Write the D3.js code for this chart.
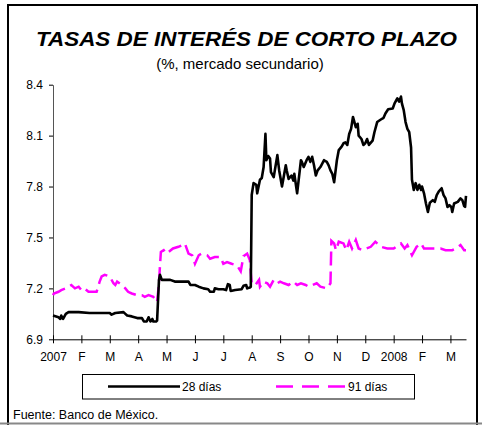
<!DOCTYPE html>
<html>
<head>
<meta charset="utf-8">
<script src="https://cdn.jsdelivr.net/npm/d3@7"></script>
<style>
  body { margin: 0; background: #fff; }
  text { font-family: Arial, "Liberation Sans", sans-serif; }
</style>
</head>
<body>
<svg id="chart"></svg>
<script>
// size
const width = 482;
const height = 425;

// month labels on the x axis (one tick per month)
const monthLabels = ["2007", "F", "M", "A", "M", "J", "J", "A", "S", "O", "N", "D", "2008", "F", "M"];
const yTicks = [6.9, 7.2, 7.5, 7.8, 8.1, 8.4];
const axisEnd = "2008-03-18";

// 28 dias
const dates28 = [
  "2007-01-01", "2007-01-07", "2007-01-09", "2007-01-10", "2007-01-12", "2007-01-15", "2007-01-18", "2007-01-29",
  "2007-02-09", "2007-03-01", "2007-03-03", "2007-03-07", "2007-03-16", "2007-03-18", "2007-03-20", "2007-03-25",
  "2007-03-31", "2007-04-05", "2007-04-07", "2007-04-10", "2007-04-12", "2007-04-14", "2007-04-16", "2007-04-17",
  "2007-04-20", "2007-04-21", "2007-04-23", "2007-04-24", "2007-04-26", "2007-05-05", "2007-05-10", "2007-05-25",
  "2007-05-27", "2007-06-01", "2007-06-05", "2007-06-10", "2007-06-15", "2007-06-17", "2007-06-21", "2007-06-22",
  "2007-06-26", "2007-07-01", "2007-07-04", "2007-07-06", "2007-07-08", "2007-07-09", "2007-07-14", "2007-07-21",
  "2007-07-23", "2007-07-26", "2007-07-27", "2007-07-30", "2007-07-31", "2007-08-01", "2007-08-03", "2007-08-06",
  "2007-08-07", "2007-08-10", "2007-08-12", "2007-08-14", "2007-08-16", "2007-08-17", "2007-08-19", "2007-08-21",
  "2007-08-22", "2007-08-25", "2007-08-29", "2007-08-31", "2007-09-03", "2007-09-07", "2007-09-08", "2007-09-10",
  "2007-09-13", "2007-09-15", "2007-09-16", "2007-09-19", "2007-09-23", "2007-09-24", "2007-09-26", "2007-09-29",
  "2007-10-01", "2007-10-03", "2007-10-05", "2007-10-07", "2007-10-09", "2007-10-11", "2007-10-14", "2007-10-18",
  "2007-10-21", "2007-10-23", "2007-10-25", "2007-10-27", "2007-10-29", "2007-11-01", "2007-11-03", "2007-11-06",
  "2007-11-08", "2007-11-10", "2007-11-12", "2007-11-14", "2007-11-16", "2007-11-18", "2007-11-21", "2007-11-23",
  "2007-11-24", "2007-11-27", "2007-11-29", "2007-12-01", "2007-12-03", "2007-12-05", "2007-12-09", "2007-12-11",
  "2007-12-14", "2007-12-18", "2007-12-21", "2007-12-23", "2007-12-26", "2007-12-31", "2008-01-02", "2008-01-05",
  "2008-01-07", "2008-01-09", "2008-01-10", "2008-01-12", "2008-01-14", "2008-01-16", "2008-01-18", "2008-01-20",
  "2008-01-21", "2008-01-23", "2008-01-25", "2008-01-27", "2008-01-29", "2008-01-31", "2008-02-01", "2008-02-03",
  "2008-02-05", "2008-02-07", "2008-02-09", "2008-02-12", "2008-02-14", "2008-02-16", "2008-02-18", "2008-02-21",
  "2008-02-23", "2008-02-25", "2008-02-27", "2008-02-29", "2008-03-02", "2008-03-03", "2008-03-05", "2008-03-09",
  "2008-03-12", "2008-03-14", "2008-03-16", "2008-03-17", "2008-03-18"
];
const values28 = [
  7.04, 7.03, 7.02, 7.04, 7.02, 7.05, 7.06, 7.06,
  7.055, 7.055, 7.045, 7.055, 7.06, 7.05, 7.04, 7.035,
  7.025, 7.025, 7.005, 7.005, 7.03, 7.005, 7.02, 7.005,
  7.005, 7.01, 7.25, 7.28, 7.25, 7.25, 7.24, 7.24,
  7.22, 7.22, 7.21, 7.20, 7.195, 7.18, 7.18, 7.20,
  7.195, 7.195, 7.19, 7.225, 7.22, 7.185, 7.19, 7.195,
  7.215, 7.22, 7.20, 7.205, 7.21, 7.75, 7.82, 7.81,
  7.76, 7.84, 7.85, 7.915, 8.11, 7.955, 7.98, 7.965,
  7.885, 7.855, 7.985, 7.895, 7.80, 7.925, 7.895, 7.845,
  7.865, 7.835, 7.875, 7.76, 7.955, 7.945, 7.915, 7.955,
  7.975, 7.945, 7.975, 7.925, 7.865, 7.895, 7.915, 7.955,
  7.945, 7.925, 7.895, 7.875, 7.825, 7.955, 8.015, 8.035,
  8.055, 8.06, 8.045, 8.11, 8.14, 8.21, 8.15, 8.17,
  8.10, 8.08, 8.045, 8.055, 8.08, 8.045, 8.07, 8.12,
  8.18, 8.195, 8.205, 8.23, 8.255, 8.26, 8.29, 8.32,
  8.30, 8.33, 8.29, 8.25, 8.18, 8.14, 8.12, 8.03,
  7.84, 7.78, 7.82, 7.78, 7.81, 7.78, 7.80, 7.76,
  7.70, 7.65, 7.705, 7.72, 7.71, 7.75, 7.77, 7.79,
  7.75, 7.73, 7.68, 7.69, 7.68, 7.65, 7.70, 7.71,
  7.73, 7.72, 7.685, 7.68, 7.745
];

// 91 dias
const dates91 = [
  "2007-01-01", "2007-01-02", "2007-01-07", "2007-01-10", "2007-01-15", "2007-01-21", "2007-01-25", "2007-01-29",
  "2007-02-01", "2007-02-04", "2007-02-08", "2007-02-11", "2007-02-16", "2007-02-19", "2007-02-21", "2007-02-24",
  "2007-03-01", "2007-03-05", "2007-03-07", "2007-03-09", "2007-03-14", "2007-03-18", "2007-03-21", "2007-03-25",
  "2007-03-31", "2007-04-05", "2007-04-08", "2007-04-12", "2007-04-17", "2007-04-21", "2007-04-23", "2007-04-24",
  "2007-04-25", "2007-04-28", "2007-05-01", "2007-05-08", "2007-05-14", "2007-05-18", "2007-05-21", "2007-05-25",
  "2007-05-29", "2007-06-01", "2007-06-05", "2007-06-08", "2007-06-14", "2007-06-17", "2007-06-22", "2007-06-28",
  "2007-07-01", "2007-07-05", "2007-07-10", "2007-07-16", "2007-07-20", "2007-07-23", "2007-07-27", "2007-07-30",
  "2007-07-31", "2007-08-01", "2007-08-05", "2007-08-09", "2007-08-10", "2007-08-14", "2007-08-18", "2007-08-21",
  "2007-08-25", "2007-08-29", "2007-09-01", "2007-09-05", "2007-09-10", "2007-09-15", "2007-09-19", "2007-09-23",
  "2007-09-28", "2007-10-01", "2007-10-10", "2007-10-14", "2007-10-21", "2007-10-25", "2007-10-26", "2007-10-29",
  "2007-10-31", "2007-11-03", "2007-11-08", "2007-11-11", "2007-11-14", "2007-11-17", "2007-11-21", "2007-11-24",
  "2007-11-28", "2007-12-07", "2007-12-12", "2007-12-18", "2007-12-25", "2008-01-01", "2008-01-09", "2008-01-13",
  "2008-01-16", "2008-01-21", "2008-01-26", "2008-01-31", "2008-02-03", "2008-02-08", "2008-02-20", "2008-02-25",
  "2008-03-03", "2008-03-07", "2008-03-12", "2008-03-16", "2008-03-18"
];
const values91 = [
  7.16, 7.17, 7.18, 7.19, 7.20, 7.22, 7.20, 7.21,
  7.19, 7.20, 7.18, 7.18, 7.18, 7.24, 7.27, 7.28,
  7.27, 7.23, 7.22, 7.24, 7.22, 7.20, 7.18, 7.17,
  7.16, 7.16, 7.15, 7.16, 7.15, 7.12, 7.23, 7.33,
  7.415, 7.425, 7.405, 7.435, 7.445, 7.455, 7.465, 7.405,
  7.395, 7.345, 7.395, 7.405, 7.395, 7.375, 7.385, 7.385,
  7.345, 7.355, 7.345, 7.335, 7.30, 7.39, 7.405, 7.366,
  7.29, 7.23, 7.22, 7.25, 7.21, 7.24, 7.23, 7.21,
  7.25, 7.23, 7.24, 7.23, 7.22, 7.24, 7.22, 7.23,
  7.22, 7.21, 7.23, 7.21, 7.20, 7.23, 7.48, 7.465,
  7.425, 7.475, 7.465, 7.425, 7.475, 7.435, 7.485, 7.435,
  7.425, 7.445, 7.475, 7.445, 7.435, 7.435, 7.465, 7.435,
  7.455, 7.395, 7.445, 7.465, 7.435, 7.435, 7.435, 7.425,
  7.425, 7.435, 7.455, 7.425, 7.425
];

// dates -> position in months since Jan 2007 (every month gets the same width)
function monthPos(s) {
    const [y, m, d] = s.split("-").map(Number);
    const days = new Date(y, m, 0).getDate();
    return (y - 2007) * 12 + (m - 1) + (d - 1) / days;
}

const series28 = dates28.map((d, i) => ({ t: monthPos(d), v: values28[i] }));
const series91 = dates91.map((d, i) => ({ t: monthPos(d), v: values91[i] }));

const svg = d3.select("#chart")
    .attr("width", width)
    .attr("height", height);

// frame
svg.append("path")
    .attr("d", "M8,425 V5 H477 V425")
    .attr("fill", "none")
    .attr("stroke", "#000")
    .attr("stroke-width", 2);
svg.append("line")
    .attr("x1", 0).attr("x2", width)
    .attr("y1", 423.5).attr("y2", 423.5)
    .attr("stroke", "#888")
    .attr("stroke-width", 2);

// title
svg.append("text")
    .attr("x", 36).attr("y", 46)
    .attr("textLength", 421)
    .attr("lengthAdjust", "spacingAndGlyphs")
    .style("font-size", "21px")
    .style("font-weight", "bold")
    .style("font-style", "italic")
    .text("TASAS DE INTERÉS DE CORTO PLAZO");
svg.append("text")
    .attr("x", 240).attr("y", 69)
    .attr("text-anchor", "middle")
    .style("font-size", "15px")
    .text("(%, mercado secundario)");

// scales
const xScale = d3.scaleLinear()
    .domain([0, monthPos(axisEnd)])
    .range([53, 466]);
const yScale = d3.scaleLinear()
    .domain([6.9, 8.4])
    .range([339.3, 84.7]);

// axes
const yAxis = d3.axisLeft(yScale)
    .tickValues(yTicks)
    .tickFormat(d3.format(".1f"))
    .tickSizeOuter(0)
    .tickSizeInner(4)
    .tickPadding(6);
const gy = svg.append("g")
    .attr("transform", "translate(53,0)")
    .call(yAxis);
gy.select(".domain").attr("stroke", "#555");
gy.selectAll("text").style("font-size", "12px").attr("fill", "#000");

const xAxis = d3.axisBottom(xScale)
    .tickValues(d3.range(monthLabels.length))
    .tickFormat(i => monthLabels[i])
    .tickSizeOuter(0)
    .tickSizeInner(4);
const gx = svg.append("g")
    .attr("transform", `translate(0,${yScale(6.9)})`)
    .call(xAxis);
gx.selectAll(".tick line").attr("y1", -4).attr("y2", 4);
gx.selectAll("text")
    .attr("y", 22)
    .attr("dy", 0)
    .style("font-size", "12px")
    .attr("fill", "#000");

// lines
const line = d3.line()
    .x(d => xScale(d.t))
    .y(d => yScale(d.v));

svg.append("path")
    .datum(series91)
    .attr("d", line)
    .attr("fill", "none")
    .attr("stroke", "#ff00ff")
    .attr("stroke-width", 2.5)
    .attr("stroke-dasharray", "14,6");

svg.append("path")
    .datum(series28)
    .attr("d", line)
    .attr("fill", "none")
    .attr("stroke", "#000")
    .attr("stroke-width", 2.6)
    .attr("stroke-linejoin", "round");

// legend
const legend = svg.append("g");
legend.append("rect")
    .attr("x", 82.5).attr("y", 374.5)
    .attr("width", 332).attr("height", 24.5)
    .attr("fill", "#fff")
    .attr("stroke", "#000");
legend.append("line")
    .attr("x1", 108).attr("x2", 180)
    .attr("y1", 386.5).attr("y2", 386.5)
    .attr("stroke", "#000")
    .attr("stroke-width", 2.5);
legend.append("text")
    .attr("x", 182).attr("y", 391)
    .style("font-size", "12px")
    .text("28 días");
legend.append("line")
    .attr("x1", 276).attr("x2", 346)
    .attr("y1", 386.5).attr("y2", 386.5)
    .attr("stroke", "#ff00ff")
    .attr("stroke-width", 2.5)
    .attr("stroke-dasharray", "17,9");
legend.append("text")
    .attr("x", 348).attr("y", 391)
    .style("font-size", "12px")
    .text("91 días");

// source
svg.append("text")
    .attr("x", 13).attr("y", 419)
    .style("font-size", "12.5px")
    .text("Fuente: Banco de México.");
</script>
</body>
</html>
